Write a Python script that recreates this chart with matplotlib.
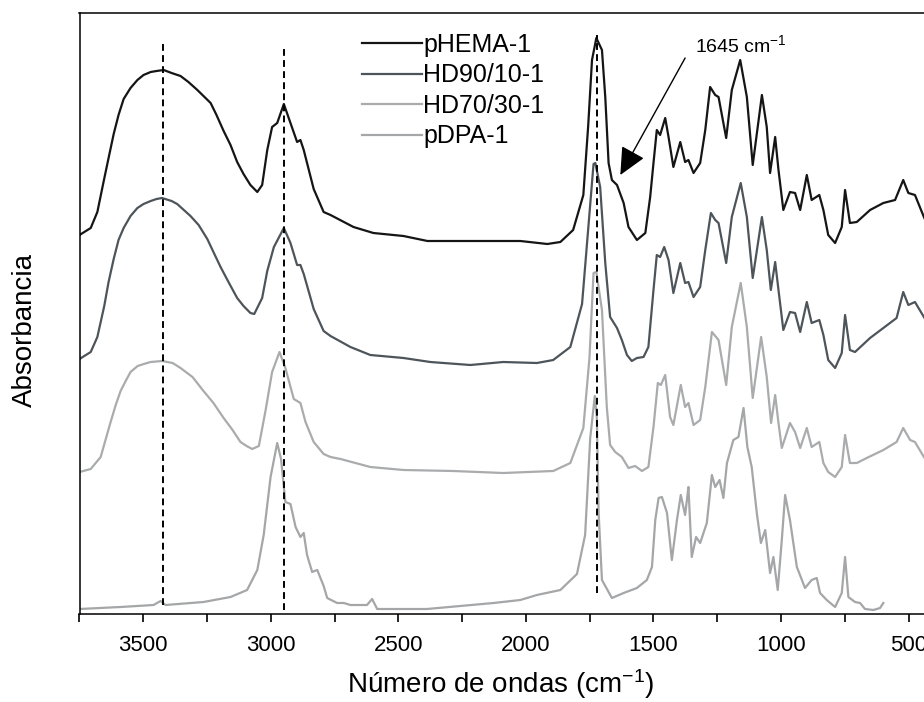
import matplotlib
matplotlib.use("Agg")
import matplotlib.pyplot as plt
from matplotlib.ticker import MultipleLocator

plt.rcParams['font.family'] = ['Liberation Sans', 'DejaVu Sans']
plt.rcParams['mathtext.default'] = 'regular'

# ---- FTIR spectra (wavenumber in cm-1, absorbance offset per sample) ----
wn_phema = [3750, 3706, 3680, 3655, 3636, 3616, 3597, 3577, 3550, 3523, 3499, 3471, 3448, 3420,
            3389, 3354, 3323, 3288, 3264, 3236, 3213, 3185, 3158, 3132, 3107,
            3080, 3053, 3034, 3014, 2995, 2975, 2949, 2923, 2897, 2884, 2871, 2832, 2793, 2766,
            2676, 2598, 2480, 2386, 2285, 2151, 2022, 1916, 1865, 1815, 1775, 1756, 1741, 1724,
            1702, 1689, 1676, 1663, 1643, 1617, 1598, 1565, 1532, 1513, 1500, 1487, 1474, 1454,
            1441, 1422, 1395, 1376, 1363, 1343, 1317, 1297, 1278, 1258, 1245, 1215, 1193, 1160,
            1134, 1111, 1075, 1056, 1043, 1023, 1010, 991, 965, 945, 925, 899, 880, 850, 834,
            815, 788, 762, 749, 730, 703, 651, 599, 553, 521, 501, 475, 440, 400]
ab_phema = [3.79, 3.86, 4.02, 4.33, 4.56, 4.80, 4.99, 5.15, 5.26, 5.34, 5.39, 5.42, 5.43, 5.44,
            5.41, 5.38, 5.32, 5.24, 5.18, 5.11, 4.99, 4.83, 4.69, 4.52, 4.40,
            4.29, 4.22, 4.29, 4.64, 4.87, 4.91, 5.10, 4.91, 4.72, 4.74, 4.64, 4.25, 4.02, 3.99,
            3.87, 3.81, 3.78, 3.73, 3.73, 3.73, 3.73, 3.70, 3.72, 3.84, 4.19, 4.88, 5.54, 5.76,
            5.64, 5.17, 4.51, 4.34, 4.29, 4.11, 3.87, 3.74, 3.81, 4.17, 4.51, 4.84, 4.79, 4.96,
            4.77, 4.47, 4.72, 4.52, 4.54, 4.41, 4.51, 4.84, 5.27, 5.19, 5.17, 4.76, 5.24, 5.54,
            5.17, 4.49, 5.19, 4.87, 4.41, 4.77, 4.44, 4.04, 4.22, 4.21, 4.04, 4.39, 4.14, 4.19, 4.04,
            3.79, 3.71, 3.87, 4.24, 3.91, 3.92, 4.04, 4.11, 4.14, 4.34, 4.21, 4.19, 3.97, 3.75]

wn_hd90 = [3750, 3706, 3680, 3653, 3636, 3616, 3597, 3577, 3550, 3523, 3499, 3471, 3448, 3426,
           3389, 3367, 3315, 3283, 3249, 3225, 3197, 3166, 3132, 3107,
           3080, 3065, 3034, 3014, 2988, 2949, 2923, 2897, 2884, 2871, 2832, 2793, 2766, 2688,
           2610, 2480, 2375, 2218, 2089, 1957, 1893, 1826, 1780, 1754, 1735, 1728, 1709, 1689,
           1670, 1643, 1624, 1604, 1585, 1565, 1539, 1520, 1500, 1487, 1474, 1458, 1441, 1422,
           1395, 1376, 1363, 1343, 1317, 1297, 1275, 1258, 1245, 1215, 1193, 1158, 1134, 1111,
           1075, 1056, 1040, 1023, 1010, 991, 965, 945, 925, 899, 880, 850, 834, 815, 788, 762,
           749, 730, 710, 651, 599, 547, 521, 501, 475, 440, 400]
ab_hd90 = [2.55, 2.62, 2.77, 3.08, 3.32, 3.55, 3.74, 3.86, 3.98, 4.06, 4.10, 4.13, 4.15, 4.16,
           4.13, 4.10, 3.98, 3.89, 3.75, 3.62, 3.47, 3.32, 3.16, 3.08,
           3.01, 3.00, 3.16, 3.43, 3.67, 3.86, 3.71, 3.49, 3.49, 3.40, 3.05, 2.83, 2.78, 2.67,
           2.59, 2.56, 2.52, 2.49, 2.52, 2.51, 2.54, 2.67, 3.10, 3.91, 4.50, 4.51, 4.27, 3.51,
           2.97, 2.86, 2.74, 2.59, 2.53, 2.56, 2.57, 2.67, 3.24, 3.59, 3.57, 3.67, 3.54, 3.21,
           3.51, 3.31, 3.32, 3.17, 3.27, 3.64, 4.01, 3.94, 3.91, 3.51, 3.97, 4.31, 3.97, 3.36,
           3.97, 3.64, 3.24, 3.52, 3.24, 2.84, 3.02, 3.01, 2.82, 3.12, 2.91, 2.94, 2.79, 2.54, 2.46, 2.61,
           2.99, 2.64, 2.62, 2.76, 2.86, 2.96, 3.22, 3.09, 3.12, 2.97, 2.80]

wn_hd70 = [3750, 3706, 3667, 3628, 3608, 3589, 3569, 3550, 3522, 3498, 3471, 3426, 3385, 3354,
           3307, 3264, 3225, 3185, 3150, 3119, 3095, 3073, 3047,
           3021, 2995, 2966, 2943, 2910, 2884, 2864, 2832, 2793, 2766, 2727, 2610, 2480, 2285,
           2089, 1893, 1826, 1775, 1751, 1735, 1724, 1702, 1683, 1670, 1650, 1624, 1598, 1572,
           1545, 1520, 1500, 1483, 1471, 1454, 1435, 1422, 1393, 1376, 1363, 1343, 1317, 1297,
           1271, 1245, 1215, 1193, 1158, 1134, 1111, 1078, 1056, 1039, 1023, 1010, 997, 965,
           945, 925, 899, 880, 850, 834, 815, 788, 762, 749, 730, 703, 664, 599, 547, 521, 494,
           475, 440, 400]
ab_hd70 = [1.42, 1.45, 1.57, 1.92, 2.09, 2.23, 2.33, 2.42, 2.48, 2.50, 2.52, 2.53, 2.51, 2.46,
           2.37, 2.23, 2.11, 1.96, 1.84, 1.72, 1.68, 1.65, 1.68,
           2.03, 2.42, 2.62, 2.46, 2.15, 2.11, 1.92, 1.72, 1.60, 1.57, 1.55, 1.47, 1.44, 1.43,
           1.41, 1.43, 1.51, 1.86, 2.56, 3.41, 3.42, 3.04, 2.07, 1.69, 1.62, 1.57, 1.46, 1.48,
           1.43, 1.47, 1.87, 2.31, 2.29, 2.39, 1.97, 1.89, 2.29, 2.07, 2.11, 1.89, 1.94, 2.27,
           2.82, 2.74, 2.29, 2.87, 3.31, 2.87, 2.16, 2.77, 2.37, 1.91, 2.19, 1.91, 1.66, 1.91,
           1.82, 1.66, 1.86, 1.67, 1.72, 1.51, 1.42, 1.37, 1.47, 1.79, 1.51, 1.51, 1.56, 1.64, 1.72, 1.86, 1.74,
           1.72, 1.57, 1.42]

wn_pdpa = [3750, 3589, 3460, 3432, 3413, 3264, 3158, 3093, 3053, 3028, 3001, 2975, 2960, 2943,
           2923, 2903, 2884, 2871, 2858, 2838, 2818, 2793, 2779, 2740, 2714, 2688, 2623, 2603,
           2583, 2388, 2127, 2022, 1957, 1865, 1800, 1768, 1748, 1730, 1722, 1715, 1702, 1663,
           1617, 1565, 1526, 1506, 1493, 1480, 1467, 1447, 1428, 1408, 1393, 1376, 1369, 1363,
           1350, 1333, 1317, 1291, 1271, 1258, 1241, 1226, 1212, 1187, 1167, 1147, 1132, 1115,
           1095, 1079, 1062, 1043, 1030, 1013, 997, 984, 965, 938, 906, 880, 860, 847, 821, 788,
           762, 749, 736, 710, 690, 671, 638, 612, 599]
ab_pdpa = [0.05, 0.07, 0.09, 0.13, 0.09, 0.12, 0.17, 0.24, 0.44, 0.79, 1.37, 1.71, 1.55, 1.12,
           1.10, 0.87, 0.77, 0.81, 0.59, 0.42, 0.44, 0.28, 0.16, 0.11, 0.11, 0.09, 0.09, 0.15,
           0.05, 0.05, 0.11, 0.14, 0.19, 0.24, 0.40, 0.79, 1.76, 2.18, 1.96, 1.01, 0.34, 0.16,
           0.21, 0.26, 0.34, 0.47, 0.94, 1.16, 1.17, 1.01, 0.54, 0.94, 1.19, 0.99, 1.14, 1.27,
           0.57, 0.77, 0.71, 0.91, 1.39, 1.27, 1.34, 1.16, 1.51, 1.74, 1.77, 2.06, 1.67, 1.47,
           1.01, 0.71, 0.84, 0.41, 0.57, 0.24, 0.74, 1.19, 0.94, 0.47, 0.26, 0.34, 0.36, 0.21, 0.14, 0.07,
           0.21, 0.57, 0.17, 0.12, 0.11, 0.05, 0.04, 0.06, 0.11]

labels = ['pHEMA-1', 'HD90/10-1', 'HD70/30-1', 'pDPA-1']
colors = ['#151515', '#4e555a', '#a9abad', '#a4a6a8']

# marked bands: (wavenumber, lower absorbance, upper absorbance)
band_wn = [3424, 2950, 1720]
band_lo = [0.09, 0.04, 0.21]
band_hi = [5.71, 5.69, 5.79]

fig = plt.figure(figsize=(9.24, 7.02), dpi=100)
ax = fig.add_axes([79.5 / 924, 88 / 702, (934.1 - 79.5) / 924, 601.5 / 702])

series = [(wn_phema, ab_phema), (wn_hd90, ab_hd90), (wn_hd70, ab_hd70), (wn_pdpa, ab_pdpa)]
lines = []
for (wn, ab), lab, col in zip(series, labels, colors):
    ln, = ax.plot(wn, ab, color=col, lw=1.6, label=lab, solid_joinstyle='round')
    lines.append(ln)

for w, lo, hi in zip(band_wn, band_lo, band_hi):
    ax.plot([w, w], [lo, hi], color='black', lw=1.4, linestyle=(0, (3.5, 2.2)), zorder=4)

ax.set_xlim(3750, 400)
ax.set_ylim(0, 6.015)
ax.set_yticks([])
ax.xaxis.set_major_locator(MultipleLocator(500))
ax.xaxis.set_minor_locator(MultipleLocator(250))
ax.tick_params(axis='x', which='both', direction='out', length=6, width=1.2,
               labelsize=16, pad=9)
for sp in ax.spines.values():
    sp.set_linewidth(1.1)

# shoulder annotation
ax.annotate('', xy=(1630, 4.39), xytext=(1376, 5.56),
            arrowprops=dict(arrowstyle='-|>,head_length=0.85,head_width=0.4',
                            mutation_scale=20, lw=1.0, color='black', shrinkA=0, shrinkB=0))
ax.text(1337, 5.62, '1645 cm$^{-1}$', ha='left', va='baseline', fontsize=14)

leg = ax.legend(handles=lines, loc='upper left', bbox_to_anchor=(362 / 924, 1 - 33 / 702),
                bbox_transform=fig.transFigure, frameon=False, fontsize=18,
                handlelength=2.4, handletextpad=0.05, labelspacing=0.26,
                borderpad=0, borderaxespad=0)

fig.text(25 / 924, 1 - 330 / 702, 'Absorbancia', rotation=90, ha='center', va='center',
         fontsize=20)
fig.text(501 / 924, (702 - 693) / 702, 'Número de ondas (cm$^{-1}$)', ha='center',
         va='baseline', fontsize=20)

fig.savefig('out.png', dpi=100)
